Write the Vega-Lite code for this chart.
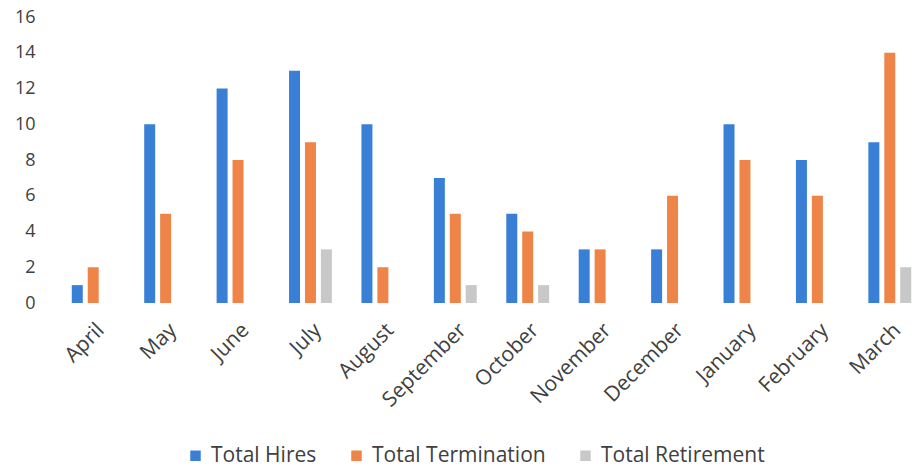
{
  "$schema": "https://vega.github.io/schema/vega-lite/v6.json",
  "autosize": {"type": "none"},
  "width": 869,
  "height": 286,
  "padding": {"left": 57, "top": 17, "right": 0, "bottom": 168},
  "background": "white",
  "data": {"values": [
    {"month": "April", "series": "Total Hires", "value": 1},
    {"month": "April", "series": "Total Termination", "value": 2},
    {"month": "April", "series": "Total Retirement", "value": 0},
    {"month": "May", "series": "Total Hires", "value": 10},
    {"month": "May", "series": "Total Termination", "value": 5},
    {"month": "May", "series": "Total Retirement", "value": 0},
    {"month": "June", "series": "Total Hires", "value": 12},
    {"month": "June", "series": "Total Termination", "value": 8},
    {"month": "June", "series": "Total Retirement", "value": 0},
    {"month": "July", "series": "Total Hires", "value": 13},
    {"month": "July", "series": "Total Termination", "value": 9},
    {"month": "July", "series": "Total Retirement", "value": 3},
    {"month": "August", "series": "Total Hires", "value": 10},
    {"month": "August", "series": "Total Termination", "value": 2},
    {"month": "August", "series": "Total Retirement", "value": 0},
    {"month": "September", "series": "Total Hires", "value": 7},
    {"month": "September", "series": "Total Termination", "value": 5},
    {"month": "September", "series": "Total Retirement", "value": 1},
    {"month": "October", "series": "Total Hires", "value": 5},
    {"month": "October", "series": "Total Termination", "value": 4},
    {"month": "October", "series": "Total Retirement", "value": 1},
    {"month": "November", "series": "Total Hires", "value": 3},
    {"month": "November", "series": "Total Termination", "value": 3},
    {"month": "November", "series": "Total Retirement", "value": 0},
    {"month": "December", "series": "Total Hires", "value": 3},
    {"month": "December", "series": "Total Termination", "value": 6},
    {"month": "December", "series": "Total Retirement", "value": 0},
    {"month": "January", "series": "Total Hires", "value": 10},
    {"month": "January", "series": "Total Termination", "value": 8},
    {"month": "January", "series": "Total Retirement", "value": 0},
    {"month": "February", "series": "Total Hires", "value": 8},
    {"month": "February", "series": "Total Termination", "value": 6},
    {"month": "February", "series": "Total Retirement", "value": 0},
    {"month": "March", "series": "Total Hires", "value": 9},
    {"month": "March", "series": "Total Termination", "value": 14},
    {"month": "March", "series": "Total Retirement", "value": 2}
  ]},
  "mark": {"type": "bar"},
  "encoding": {
    "x": {
      "field": "month", "type": "nominal", "sort": null,
      "scale": {"paddingInner": 0.34, "paddingOuter": 0.17},
      "axis": {"title": null, "labelAngle": -45, "domain": false, "ticks": false, "labelFontSize": 21, "labelColor": "#404040", "labelFont": "Open Sans", "labelPadding": 16, "labelLimit": 0}
    },
    "xOffset": {
      "field": "series", "type": "nominal",
      "sort": ["Total Hires", "Total Termination", "Total Retirement"],
      "scale": {"paddingInner": 0.31, "paddingOuter": 0.155}
    },
    "y": {
      "field": "value", "type": "quantitative",
      "scale": {"domain": [0, 16]},
      "axis": {"title": null, "values": [0,2,4,6,8,10,12,14,16], "grid": false, "domain": false, "ticks": false, "labelFontSize": 18, "labelColor": "#404040", "labelFont": "Open Sans", "labelPadding": 22}
    },
    "color": {
      "field": "series", "type": "nominal",
      "sort": ["Total Hires", "Total Termination", "Total Retirement"],
      "scale": {"domain": ["Total Hires", "Total Termination", "Total Retirement"], "range": ["#3a7fd6", "#ee8447", "#c8c8c8"]},
      "legend": {"title": null, "orient": "none", "direction": "horizontal", "legendX": 128, "legendY": 428, "symbolType": "square", "symbolSize": 110, "labelFontSize": 21, "labelColor": "#404040", "labelFont": "Open Sans", "columnPadding": 29, "symbolOffset": 0, "labelOffset": 5, "labelLimit": 0}
    }
  },
  "config": {"view": {"stroke": null}}
}
